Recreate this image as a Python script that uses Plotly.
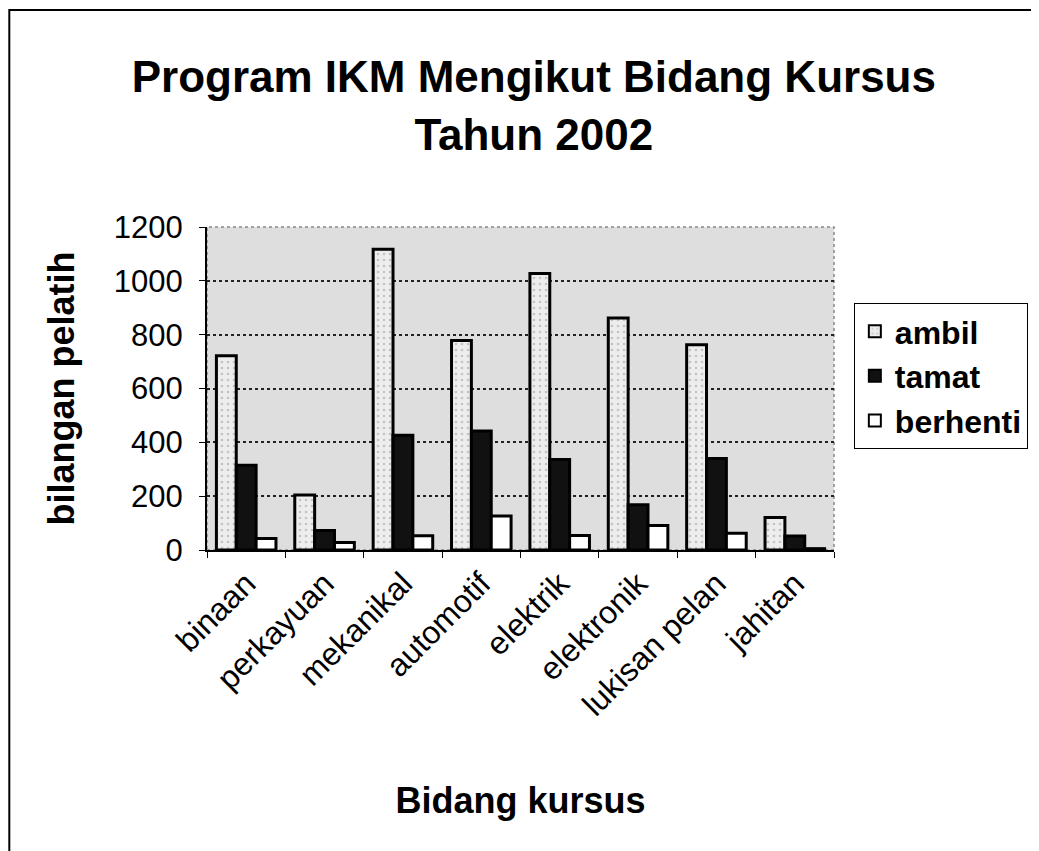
# Program IKM Mengikut Bidang Kursus, Tahun 2002
# Grouped bar chart: ambil / tamat / berhenti per bidang kursus

import plotly.graph_objects as go

# ---- data ----
kursus = ["binaan", "perkayuan", "mekanikal", "automotif",
          "elektrik", "elektronik", "lukisan pelan", "jahitan"]
ambil    = [722, 204, 1117, 778, 1027, 862, 763, 121]
tamat    = [315,  72,  426, 442,  336, 168, 340,  52]
berhenti = [ 43,  28,   53, 126,   54,  91,  62,   5]

y_ticks = [0, 200, 400, 600, 800, 1000, 1200]

FONT = "Liberation Sans, Arial, sans-serif"

fig = go.Figure()

# light dotted-grey bars
fig.add_trace(go.Bar(
    x=kursus, y=ambil, name="ambil",
    marker=dict(color="#ededed", line=dict(color="black", width=3),
                pattern=dict(shape=".", fgcolor="#9a9a9a", size=6, solidity=0.15)),
))
# solid black bars
fig.add_trace(go.Bar(
    x=kursus, y=tamat, name="tamat",
    marker=dict(color="#111111", line=dict(color="black", width=3)),
))
# white bars
fig.add_trace(go.Bar(
    x=kursus, y=berhenti, name="berhenti",
    marker=dict(color="white", line=dict(color="black", width=3)),
))

# page body has an 8px margin, so the figure is sized to fill what is left
fig.update_layout(
    width=1031, height=843,
    margin=dict(l=199, r=204, t=219, b=301),
    paper_bgcolor="white",
    plot_bgcolor="#dedede",
    font=dict(family=FONT, color="black"),
    barmode="group",
    bargap=0.24,
    bargroupgap=0,
    title=dict(
        text="<b>Program IKM Mengikut Bidang Kursus<br>Tahun 2002</b>",
        x=0.51, xanchor="center", yref="container", y=0.9, yanchor="top",
        font=dict(size=44, family=FONT),
    ),
    legend=dict(
        x=1.03, xanchor="left", y=0.765, yanchor="top",
        font=dict(size=32, family=FONT, weight="bold"),
        bordercolor="black", borderwidth=1, bgcolor="white",
        itemsizing="constant", tracegroupgap=0,
    ),
)

fig.update_yaxes(
    range=[0, 1200],
    tickvals=y_ticks,
    tickfont=dict(size=31),
    ticklabelstandoff=10,
    ticks="outside", ticklen=6, tickcolor="black",
    showline=True, linecolor="black", linewidth=2,
    showgrid=True, gridcolor="#222222", gridwidth=1.5, griddash="dot",
    zeroline=False,
    title=dict(text="<b>bilangan pelatih</b>", font=dict(size=36), standoff=28),
)
fig.update_xaxes(
    tickangle=-45,
    tickfont=dict(size=32),
    ticks="outside", ticklen=6, tickcolor="black", tickson="boundaries",
    showline=True, linecolor="black", linewidth=2,
    title=dict(text="<b>Bidang kursus</b>", font=dict(size=36), standoff=66),
)

# dotted frame on the top and right of the plot area
fig.add_shape(type="rect", xref="paper", yref="paper", x0=0, x1=1, y0=0, y1=1,
              line=dict(color="#888888", width=1.5, dash="dot"), layer="below")

# outer chart border (left and top visible in the scan)
fig.add_shape(type="rect", xref="paper", yref="paper",
              x0=-0.3153, x1=1.5, y0=-1.2, y1=1.672,
              line=dict(color="black", width=2))

fig.write_html("out.html")
